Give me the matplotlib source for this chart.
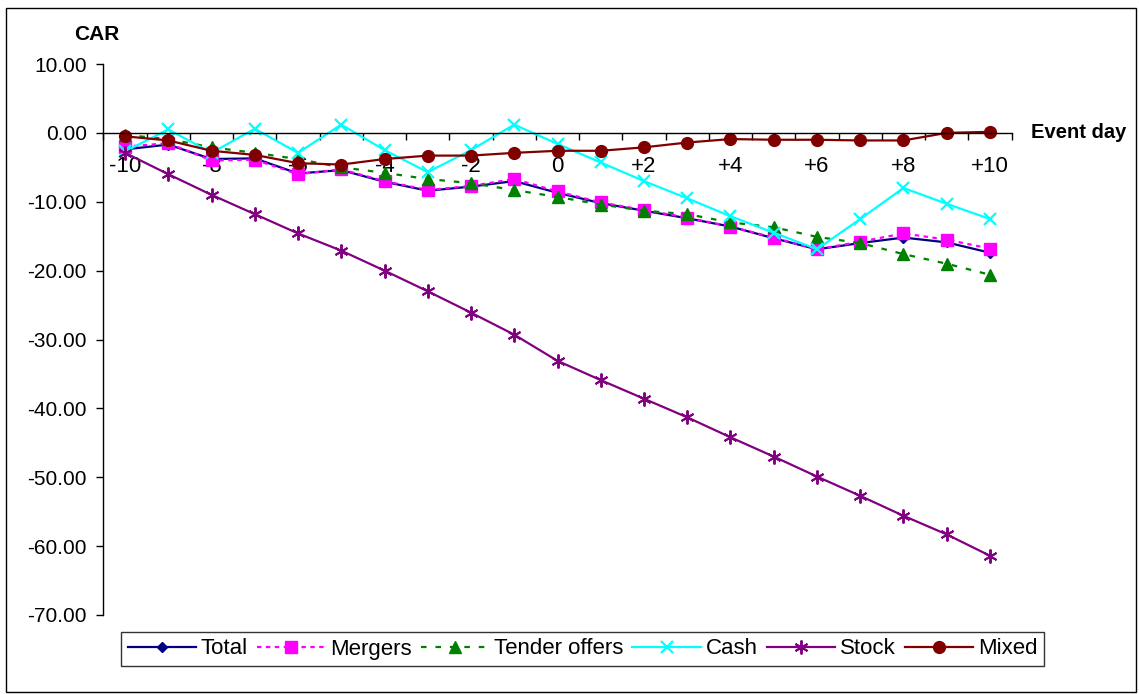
import numpy as np
import matplotlib.pyplot as plt
from matplotlib.patches import Rectangle
from matplotlib.ticker import FixedLocator, FuncFormatter

plt.rcParams['font.family'] = 'Liberation Sans'
plt.rcParams['axes.unicode_minus'] = False

# Event days -10 ... +10
days = np.arange(-10, 11)

# Cumulative abnormal returns (%) per group
total = [-2.4, -1.7, -3.8, -3.7, -5.9, -5.4, -7.1, -8.4, -7.8, -7.0, -8.7,
         -10.2, -11.3, -12.4, -13.6, -15.3, -16.9, -16.0, -15.2, -15.9, -17.4]
mergers = [-2.0, -1.5, -4.0, -3.9, -6.0, -5.3, -7.0, -8.3, -7.7, -6.7, -8.5,
           -10.1, -11.2, -12.3, -13.6, -15.2, -16.9, -15.8, -14.6, -15.5, -16.8]
tender = [-0.3, -0.9, -2.1, -2.9, -3.8, -5.0, -5.8, -6.7, -7.3, -8.3, -9.3,
          -10.4, -11.3, -11.8, -13.0, -13.7, -15.1, -16.0, -17.6, -19.0, -20.6]
cash = [-2.7, 0.5, -2.9, 0.6, -2.9, 1.2, -2.5, -5.7, -2.5, 1.2, -1.6,
        -4.3, -7.0, -9.5, -12.1, -14.5, -16.9, -12.5, -8.0, -10.3, -12.5]
stock = [-2.9, -6.0, -9.0, -11.8, -14.6, -17.1, -20.0, -23.0, -26.1, -29.3, -33.1,
         -35.9, -38.6, -41.3, -44.2, -47.0, -49.9, -52.7, -55.6, -58.3, -61.4]
mixed = [-0.5, -1.1, -2.6, -3.2, -4.4, -4.6, -3.8, -3.3, -3.3, -2.9, -2.6,
         -2.6, -2.1, -1.4, -0.9, -1.0, -1.0, -1.1, -1.1, 0.0, 0.15]

W, H = 1139, 694
fig = plt.figure(figsize=(W / 100, H / 100), dpi=100)
ax = fig.add_axes([103.4 / W, 1 - 615 / H, 908.2 / W, 551 / H])

ax.plot(days, total, color='#000080', lw=1.6, marker='D', ms=5, label='Total')
ax.plot(days, mergers, color='#FF00FF', lw=1.6, ls=(0, (2, 2)), marker='s', ms=8,
        label='Mergers')
ax.plot(days, tender, color='#008000', lw=1.6, ls=(0, (2.5, 4)), marker='^', ms=9,
        label='Tender offers')
ax.plot(days, cash, color='#00FFFF', lw=1.6, marker='x', ms=9, mew=1.6, label='Cash')
ax.plot(days, stock, color='#800080', lw=1.6, marker=(6, 2, 0), ms=10, mew=1.4,
        label='Stock')
ax.plot(days, mixed, color='#800000', lw=1.6, marker='o', ms=8.5, label='Mixed')

ax.set_xlim(-10.5, 10.5)
ax.set_ylim(-70, 10)

# y axis
ax.set_yticks(np.arange(-70, 11, 10))
ax.yaxis.set_major_formatter(FuncFormatter(lambda v, p: f'{v:.2f}'))
ax.tick_params(axis='y', direction='out', length=5, width=1, pad=7, labelsize=15)

# x axis drawn through zero, ticks between categories
for s in ('top', 'right'):
    ax.spines[s].set_visible(False)
ax.spines['bottom'].set_position(('data', 0))
ax.spines['left'].set_linewidth(1)
ax.spines['bottom'].set_linewidth(1)
ax.xaxis.set_major_locator(FixedLocator(np.arange(-10.5, 11, 1)))
ax.xaxis.set_major_formatter(FuncFormatter(lambda v, p: ''))
ax.xaxis.set_minor_locator(FixedLocator(np.arange(-10, 11, 2)))
ax.xaxis.set_minor_formatter(FuncFormatter(lambda v, p: f'{int(v):+d}' if v != 0 else '0'))
ax.tick_params(axis='x', which='major', direction='out', length=5, width=1)
ax.tick_params(axis='x', which='minor', length=0, pad=17, labelsize=16)

fig.text(97 / W, 1 - 35 / H, 'CAR', ha='center', va='center',
         fontsize=15, fontweight='bold')
fig.text(1031 / W, 1 - 133 / H, 'Event day', ha='left', va='center',
         fontsize=14.5, fontweight='bold')

leg = fig.legend(loc='center', bbox_to_anchor=(582.5 / W, 1 - 649 / H), ncol=6,
                 fontsize=16, frameon=True, fancybox=False, edgecolor='black',
                 handlelength=3.1, handletextpad=0.2, columnspacing=0.4,
                 borderpad=0.3, borderaxespad=0)
leg.get_frame().set_linewidth(1)

# chart border
fig.patches.append(Rectangle((6 / W, 2 / H), 1130 / W, 684 / H, transform=fig.transFigure,
                             fill=False, edgecolor='black', lw=1))

fig.savefig('out.png', dpi=100)
